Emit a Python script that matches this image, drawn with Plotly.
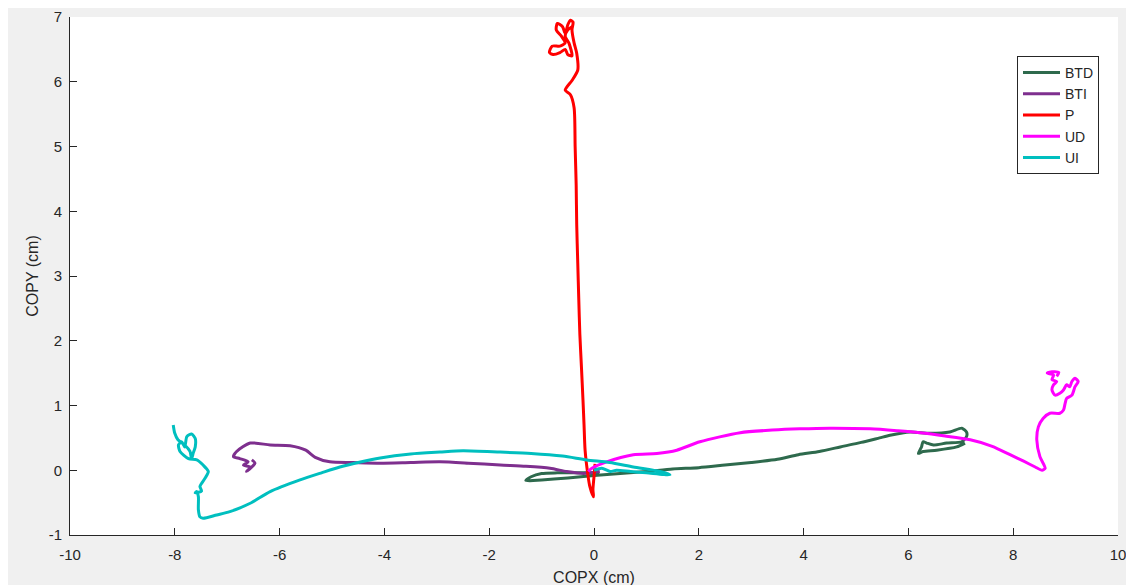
import plotly.graph_objects as go

# ---------------- data (cm) ----------------
series_names = ["BTD", "BTI", "P", "UD", "UI"]
series_colors = ["#2e6a4d", "#7e2f8e", "#ff0000", "#ff00ff", "#00bfbf"]

btd_x = [0.1, -0.3, -0.7, -1.0, -1.2, -1.3, -1.0, -0.5, 0.0, 0.5, 1.0, 1.5, 2.0, 2.5, 3.0,
         3.5, 3.9, 4.3, 4.7, 5.1, 5.45, 5.65, 6.03, 6.41, 6.79, 7.02, 7.11, 7.11, 7.02, 6.73,
         6.48, 6.35, 6.28, 6.25, 6.19, 6.28, 6.54, 6.92, 7.08]
btd_y = [-0.04, -0.04, -0.04, -0.05, -0.1, -0.16, -0.15, -0.12, -0.08, -0.05, -0.02, 0.02, 0.04, 0.08, 0.12,
         0.17, 0.24, 0.29, 0.36, 0.43, 0.5, 0.54, 0.59, 0.57, 0.59, 0.65, 0.59, 0.52, 0.44, 0.42,
         0.39, 0.42, 0.44, 0.36, 0.26, 0.29, 0.31, 0.36, 0.42]

bti_x = [0.11, -0.2, -0.52, -0.84, -1.3, -1.79, -2.4, -2.94, -3.5, -4.08, -4.6, -5.04, -5.32, -5.5,
         -5.8, -6.18, -6.56, -6.82, -6.88, -6.76, -6.6, -6.69, -6.56, -6.63, -6.47, -6.53]
bti_y = [-0.02, -0.05, -0.02, 0.03, 0.06, 0.08, 0.11, 0.13, 0.12, 0.11, 0.12, 0.13, 0.2, 0.31,
         0.38, 0.39, 0.42, 0.29, 0.21, 0.18, 0.13, 0.08, 0.05, -0.02, 0.11, 0.16]

p_x = [0.02, 0.0, -0.02, -0.01, -0.08, -0.12, -0.17, -0.19, -0.21, -0.24, -0.27, -0.29, -0.31, -0.33,
       -0.34, -0.36, -0.38, -0.45, -0.55, -0.42, -0.31, -0.33, -0.38, -0.42, -0.4, -0.45, -0.5,
       -0.55, -0.6, -0.7, -0.72, -0.62, -0.55, -0.65, -0.8, -0.85, -0.78, -0.65, -0.55, -0.5,
       -0.42, -0.48, -0.55, -0.5, -0.42]
p_y = [0.1, -0.1, -0.3, -0.41, -0.25, -0.05, 0.31, 0.7, 1.08, 1.6, 2.1, 2.63, 3.2, 3.8,
       4.4, 5.0, 5.6, 5.8, 5.87, 6.02, 6.18, 6.44, 6.6, 6.8, 6.92, 6.95, 6.88,
       6.75, 6.85, 6.9, 6.8, 6.7, 6.6, 6.55, 6.55, 6.45, 6.42, 6.45, 6.5, 6.42,
       6.4, 6.6, 6.7, 6.8, 6.85]

ud_x = [-0.11, -0.04, 0.24, 0.75, 1.2, 1.58, 2.02, 2.79, 3.4, 3.93, 4.5, 5.27, 5.8, 6.22,
        6.7, 7.18, 7.6, 7.94, 8.2, 8.42, 8.55, 8.61, 8.51, 8.45, 8.48, 8.57, 8.7, 8.89, 8.96,
        8.99, 9.02, 9.12, 9.18, 9.24, 9.18, 9.12, 9.08, 9.02, 8.96, 8.89, 8.8, 8.74, 8.77,
        8.83, 8.74, 8.77, 8.65, 8.74, 8.87, 8.83]
ud_y = [-0.02, 0.03, 0.13, 0.24, 0.26, 0.31, 0.44, 0.58, 0.62, 0.64, 0.65, 0.64, 0.61, 0.58,
        0.53, 0.47, 0.37, 0.24, 0.14, 0.05, 0.0, 0.03, 0.21, 0.47, 0.67, 0.8, 0.88, 0.88, 0.93,
        1.03, 1.11, 1.16, 1.29, 1.37, 1.42, 1.37, 1.29, 1.32, 1.24, 1.19, 1.16, 1.24, 1.32,
        1.37, 1.4, 1.47, 1.5, 1.52, 1.51, 1.45]

ui_x = [0.0, 0.15, 0.31, 0.43, 0.7, 1.0, 1.45, 1.26, 0.75, 0.3, -0.14, -0.6, -1.2, -1.79, -2.5,
        -2.94, -3.5, -4.08, -4.5, -4.85, -5.2, -5.61, -6.18, -6.56, -6.95, -7.2, -7.46, -7.52,
        -7.55, -7.55, -7.58, -7.61, -7.49, -7.52, -7.42, -7.36, -7.46, -7.58, -7.74, -7.9,
        -7.93, -7.87, -7.81, -7.77, -7.68, -7.61, -7.61, -7.65, -7.68, -7.71, -7.81, -7.94,
        -8.0, -8.03]
ui_y = [0.0, 0.03, -0.02, 0.0, -0.02, -0.04, -0.07, -0.02, 0.05, 0.12, 0.16, 0.22, 0.26, 0.28, 0.3,
        0.28, 0.25, 0.19, 0.12, 0.05, -0.04, -0.15, -0.33, -0.51, -0.64, -0.69, -0.74, -0.72,
        -0.61, -0.41, -0.33, -0.35, -0.32, -0.25, -0.12, -0.02, 0.08, 0.16, 0.18, 0.29,
        0.39, 0.44, 0.36, 0.52, 0.56, 0.49, 0.36, 0.26, 0.18, 0.29, 0.39, 0.47,
        0.57, 0.7]

x_tick_vals = [-10, -8, -6, -4, -2, 0, 2, 4, 6, 8, 10]
x_tick_text = ["-10", "-8", "-6", "-4", "-2", "0", "2", "4", "6", "8", "10"]
y_tick_vals = [-1, 0, 1, 2, 3, 4, 5, 6, 7]
y_tick_text = ["-1", "0", "1", "2", "3", "4", "5", "6", "7"]
x_title = "COPX (cm)"
y_title = "COPY (cm)"

all_x = [btd_x, bti_x, p_x, ud_x, ui_x]
all_y = [btd_y, bti_y, p_y, ud_y, ui_y]

# ---------------- figure ----------------
W, H = 1134, 585
ML, MT = 62, 9
PW, PH = 1048, 518
MR = W - ML - PW
MB = H - MT - PH
fig = go.Figure()
for name, col, xs, ys in zip(series_names, series_colors, all_x, all_y):
    fig.add_trace(go.Scatter(x=xs, y=ys, mode="lines", name=name,
                             line=dict(color=col, width=3, shape="spline", smoothing=0.7)))

axis_col = "#262626"
font_fam = "Liberation Sans, Arial, Helvetica, sans-serif"

fig.update_layout(
    width=W, height=H,
    margin=dict(l=ML, r=MR, t=MT, b=MB, autoexpand=False),
    paper_bgcolor="#f0f0f0",
    plot_bgcolor="#ffffff",
    font=dict(family=font_fam, size=15, color=axis_col),
    showlegend=True,
    legend=dict(x=(1017 - 70) / PW, y=(535 - 56) / PH, xanchor="left", yanchor="top",
                bgcolor="#ffffff", bordercolor=axis_col, borderwidth=1, itemwidth=37,
                font=dict(size=14, color=axis_col), tracegroupgap=0),
)
fig.update_xaxes(range=[-10, 10], tickvals=x_tick_vals, ticktext=x_tick_text,
                 ticks="inside", ticklen=7, ticklabelstandoff=6,
                 tickcolor=axis_col, showline=True, linecolor=axis_col, linewidth=1,
                 showgrid=False, zeroline=False, mirror=False,
                 tickfont=dict(size=15, color=axis_col),
                 title=dict(text=x_title, font=dict(size=16, color=axis_col), standoff=9))
fig.update_yaxes(range=[-1, 7], tickvals=y_tick_vals, ticktext=y_tick_text,
                 ticks="inside", ticklen=7, ticklabelstandoff=4,
                 tickcolor=axis_col, showline=True, linecolor=axis_col, linewidth=1,
                 showgrid=False, zeroline=False, mirror=False,
                 tickfont=dict(size=15, color=axis_col),
                 title=dict(text=y_title, font=dict(size=16, color=axis_col), standoff=6))

fig.write_html("out.html")
